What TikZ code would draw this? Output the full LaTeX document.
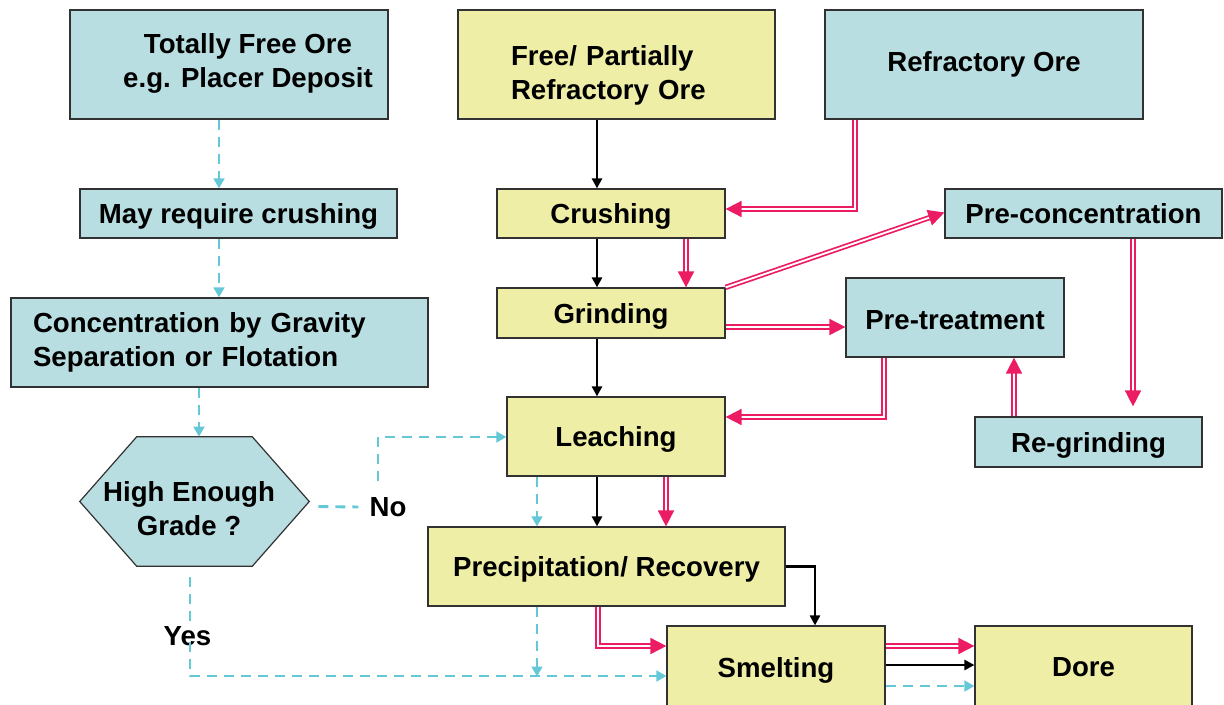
\documentclass[tikz,border=0pt]{standalone}
\usepackage{fontspec}
\setmainfont{Liberation Sans}
\usetikzlibrary{arrows.meta,calc,backgrounds}
\definecolor{boxblue}{RGB}{185,222,225}
\definecolor{boxyellow}{RGB}{238,238,166}
\definecolor{flowred}{RGB}{236,28,100}
\definecolor{flowcyan}{RGB}{100,200,215}
\definecolor{edgegray}{RGB}{50,50,50}
\begin{document}
\begin{tikzpicture}[x=0.75pt,y=-0.75pt,
  txt/.style={font=\bfseries\fontsize{20.7}{25.5}\selectfont, inner sep=1.5pt, align=center},
  boxbase/.style={txt, draw=edgegray, line width=0.9pt, rectangle},
  nodepth/.style={text depth=0pt},
  bluebox/.style={boxbase, fill=boxblue},
  yellowbox/.style={boxbase, fill=boxyellow},
  blackarr/.style={draw=black, line width=2pt, -{Triangle[length=7.5pt,width=7.5pt]}},
  redarr/.style={draw=flowred, line width=1.3pt, double=white, double distance=1.4pt, -{Triangle[length=12pt,width=12pt]}},
  cyanline/.style={draw=flowcyan, line width=2.2pt, dash pattern=on 7.5pt off 5.25pt},
  cyanarr/.style={cyanline, -{Triangle[length=7.5pt,width=8pt]}}
]
\useasboundingbox (0,0) rectangle (1224,704);

% ---- boxes ----
\node[bluebox, minimum width=238.5pt, minimum height=81.75pt,
  label={[txt, xshift=14.25pt, yshift=0.7pt]center:{Totally Free Ore\\e.g. Placer Deposit}}] (free) at (229,64.5) {};
\node[yellowbox, minimum width=237.75pt, minimum height=81.75pt,
  label={[txt, align=left, text width=158.25pt, yshift=-7.9pt]center:{Free/ Partially\\Refractory Ore}}] (partial) at (616.5,64.5) {};
\node[bluebox, minimum width=238.5pt, minimum height=81.75pt] (refr) at (984,64.5) {Refractory Ore};

\node[bluebox, nodepth, minimum width=237.75pt, minimum height=36.75pt] (mayc) at (238.5,213.5) {May require crushing};
\node[yellowbox, nodepth, minimum width=171pt, minimum height=36.75pt] (crush) at (611,213.5) {Crushing};
\node[bluebox, minimum width=207.75pt, minimum height=36.75pt] (precon) at (1083.5,213.5) {Pre-concentration};

\node[yellowbox, nodepth, minimum width=171pt, minimum height=37.5pt] (grind) at (611,313) {Grinding};
\node[bluebox, minimum width=312.75pt, minimum height=66.75pt, text width=279.75pt, align=left] (conc) at (219.5,342.5) {Concentration by Gravity\\Separation or Flotation};
\node[bluebox, minimum width=163.5pt, minimum height=59.25pt,
  label={[txt, yshift=-2.2pt]center:Pre-treatment}] (pretr) at (955,317.5) {};

\node[yellowbox, nodepth, minimum width=163.5pt, minimum height=59.25pt] (leach) at (616,436.5) {Leaching};
\node[bluebox, nodepth, minimum width=170.25pt, minimum height=37.5pt] (regr) at (1088.5,442) {Re-grinding};

\node[txt, minimum width=171.75pt, minimum height=96.75pt, inner sep=0pt,
  label={[txt, xshift=-4.1pt, yshift=-5.6pt]center:{High Enough\\Grade ?}}] (hex) at (194.5,501.5) {};
\begin{scope}[on background layer]
\draw[draw=edgegray, line width=0.9pt, fill=boxblue]
  (hex.west) -- ($(hex.north west)+(57,0)$) -- ($(hex.north east)+(-57,0)$) -- (hex.east)
  -- ($(hex.south east)+(-57,0)$) -- ($(hex.south west)+(57,0)$) -- cycle;
\end{scope}

\node[yellowbox, nodepth, minimum width=267.75pt, minimum height=59.25pt] (precip) at (606.5,566.5) {Precipitation/ Recovery};
\node[yellowbox, nodepth, minimum width=163.5pt, minimum height=61.5pt] (smelt) at (776,667) {Smelting};
\node[yellowbox, minimum width=162.75pt, minimum height=61.5pt] (dore) at (1083.5,667) {Dore};

\node[txt] (no) at (388,507) {No};
\node[txt] (yes) at (187.5,636) {Yes};

% ---- black connectors ----
\draw[blackarr] ($(partial.south)+(-19.5,0)$) -- ($(crush.north)+(-14,0)$);
\draw[blackarr] ($(crush.south)+(-14,0)$) -- ($(grind.north)+(-14,0)$);
\draw[blackarr] ($(grind.south)+(-14,0)$) -- ($(leach.north)+(-19,0)$);
\draw[blackarr] ($(leach.south)+(-19,0)$) -- ($(precip.north)+(-9.5,0)$);
\draw[blackarr] (precip.east) -| ($(smelt.north)+(39,0)$);
\draw[blackarr] ($(smelt.east)+(0,-2)$) -- ($(dore.west)+(0,-2)$);

% ---- red double connectors ----
\draw[redarr] ($(refr.south)+(-129,0)$) |- ($(crush.east)+(0,-4.5)$);
\draw[redarr] ($(crush.south)+(75,0)$) -- ($(grind.north)+(75,0)$);
\draw[redarr] (grind.north east) -- ($(precon.west)+(0,-1)$);
\draw[redarr] ($(grind.east)+(0,14)$) -- ($(pretr.west)+(0,9.5)$);
\draw[redarr] ($(pretr.south)+(-71,0)$) |- ($(leach.east)+(0,-19.5)$);
\draw[redarr] ($(precon.south)+(49.5,0)$) -- ($(regr.north)+(44.5,-10)$);
\draw[redarr] ($(regr.north)+(-74.5,0)$) -- ($(pretr.south)+(59,0)$);
\draw[redarr] ($(leach.south)+(50,0)$) -- ($(precip.north)+(59.5,0)$);
\draw[redarr] ($(precip.south)+(-8.5,0)$) |- ($(smelt.west)+(0,-21)$);
\draw[redarr] ($(smelt.east)+(0,-21)$) -- ($(dore.west)+(0,-21)$);

% ---- cyan dashed connectors ----
\draw[cyanarr] ($(free.south)+(-10,0)$) -- ($(mayc.north)+(-19.5,0)$);
\draw[cyanarr] ($(mayc.south)+(-19.5,0)$) -- ($(conc.north)+(-0.5,0)$);
\draw[cyanarr] ($(conc.south)+(-20.5,0)$) -- ($(hex.north)+(4.5,0)$);
\draw[cyanline] ($(hex.east)+(9,5)$) -- ($(no.west)+(-9,0)$);
\draw[cyanarr] ($(no.north)+(-10,-14)$) |- ($(leach.west)+(0,0.5)$);
\draw[cyanline] ($(hex.south)+(-4.5,11)$) -- ($(yes.north)+(2.5,0)$);
\draw[cyanarr] ($(yes.south)+(2.5,-6)$) |- ($(smelt.west)+(0,9)$);
\draw[cyanarr] ($(leach.south)+(-79,0)$) -- ($(precip.north)+(-69.5,0)$);
\draw[cyanarr] ($(precip.south)+(-69.5,0)$) -- ($(precip.south)+(-69.5,70)$);
\draw[cyanarr] ($(smelt.east)+(0,19)$) -- ($(dore.west)+(0,19)$);
\end{tikzpicture}
\end{document}
